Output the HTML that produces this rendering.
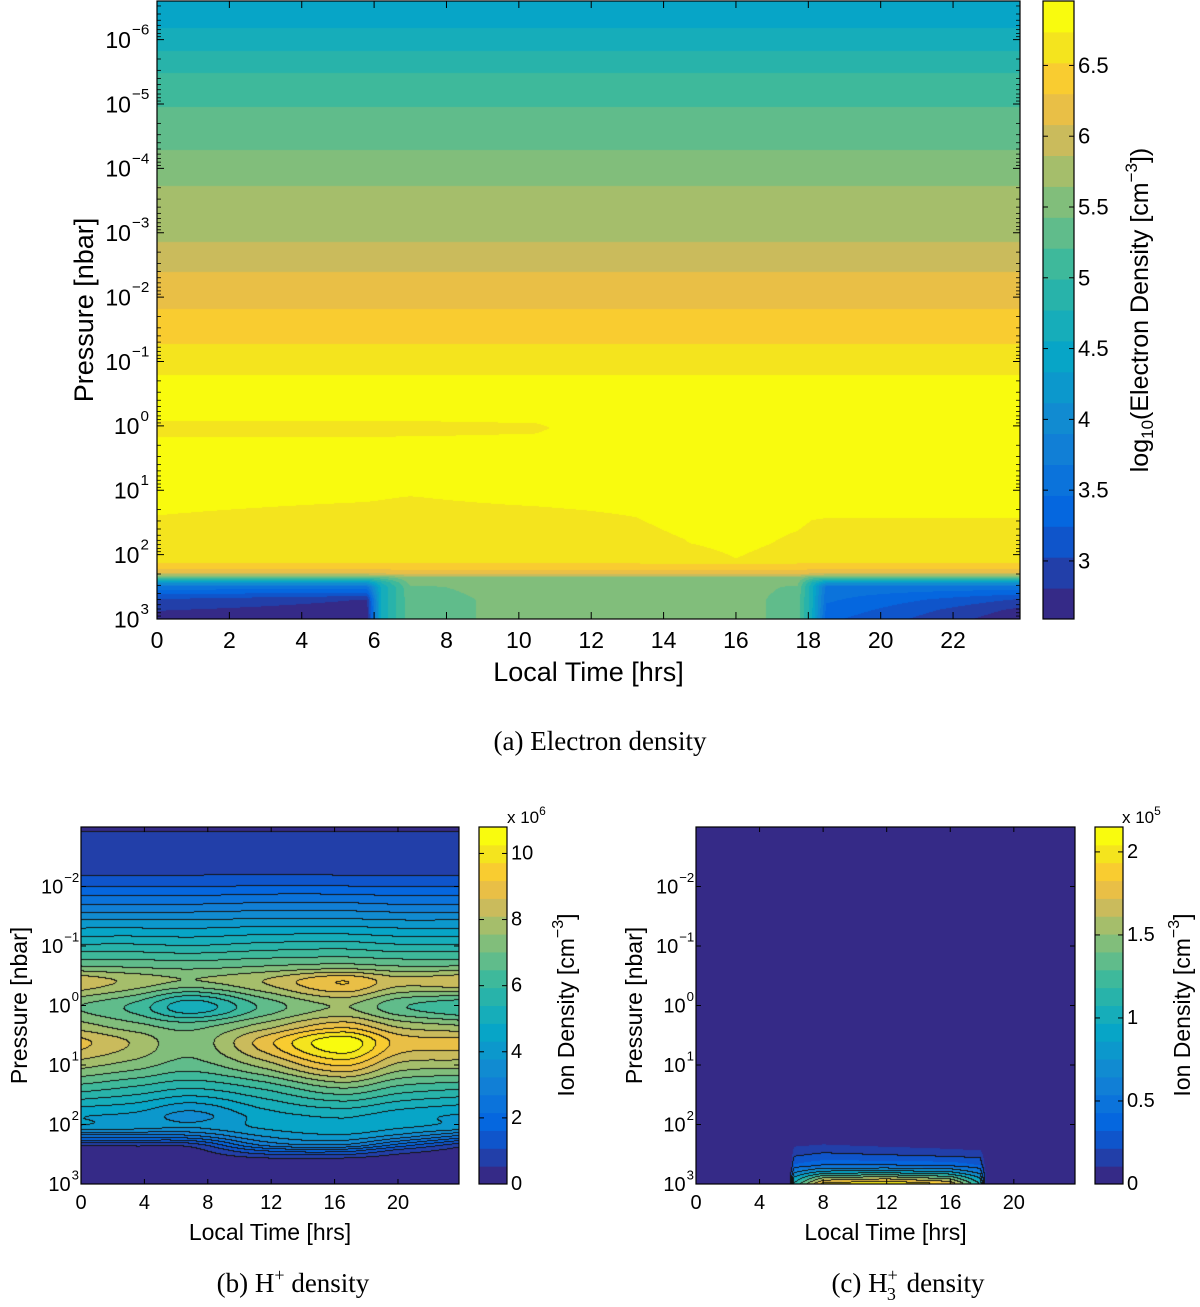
<!DOCTYPE html>
<html><head><meta charset="utf-8">
<style>
html,body{margin:0;padding:0;background:#fff;}
#root{position:relative;width:1200px;height:1307px;overflow:hidden;background:#fff;}
canvas{position:absolute;}
svg{position:absolute;left:0;top:0;}
text{font-family:"Liberation Sans",sans-serif;fill:#000;}
.cap{font-family:"Liberation Serif",serif;}
</style></head>
<body>
<div id="root">
<canvas id="cvA" width="863" height="618" style="left:157px;top:1px"></canvas>
<canvas id="cvB" width="378" height="357" style="left:81px;top:827px"></canvas>
<canvas id="cvC" width="379" height="357" style="left:696px;top:827px"></canvas>
<svg id="ov" width="1200" height="1307"></svg>
</div>
<script>
// ---------- DATA ----------
// Panel (a): electron density, log10 cm^-3
const A_PROF_L = [-6.6, -6.18, -5.82, -5.49, -4.95, -4.28, -3.75, -2.87, -2.39, -1.81, -1.27, -0.79];
const A_PROF_V = [4.40, 4.55, 4.77, 4.99, 5.21, 5.43, 5.64, 5.86, 6.08, 6.30, 6.52, 6.74];
const A_T = [0, 5.8, 6.2, 7, 10.5, 11.5, 14.6, 16, 17.7, 18.1, 18.5, 23.85];
const A_L = [-0.79, -0.4, -0.12, 0.03, 0.22, 0.69, 1.11, 1.42, 1.82, 2.05, 2.16, 2.29, 2.36, 2.43, 2.5, 2.7, 2.86, 3.0];
const A_V = [
 [6.74,6.74,6.74,6.74,6.74,6.74,6.74,6.74,6.74,6.74,6.74,6.74],
 [6.9,6.9,6.9,6.9,6.9,6.9,6.9,6.9,6.9,6.9,6.9,6.9],
 [6.77,6.77,6.77,6.77,6.78,6.85,6.9,6.9,6.9,6.9,6.9,6.9],
 [6.64,6.65,6.65,6.66,6.70,6.80,6.88,6.9,6.9,6.9,6.9,6.9],
 [6.77,6.77,6.77,6.77,6.78,6.85,6.9,6.9,6.9,6.9,6.9,6.9],
 [6.9,6.9,6.9,6.9,6.9,6.9,6.9,6.9,6.9,6.9,6.9,6.9],
 [6.80,6.76,6.75,6.73,6.80,6.82,6.85,6.88,6.85,6.82,6.80,6.80],
 [6.73,6.66,6.65,6.64,6.66,6.68,6.78,6.85,6.80,6.75,6.74,6.74],
 [6.62,6.61,6.61,6.61,6.62,6.64,6.73,6.82,6.68,6.63,6.62,6.63],
 [6.57,6.57,6.57,6.57,6.57,6.58,6.60,6.74,6.59,6.57,6.57,6.57],
 [6.50,6.50,6.50,6.50,6.50,6.50,6.50,6.50,6.50,6.50,6.50,6.50],
 [6.1,6.1,6.1,6.2,6.2,6.2,6.2,6.2,6.2,6.1,6.1,6.1],
 [5.2,5.2,5.3,5.6,5.6,5.6,5.6,5.6,5.6,5.3,5.2,5.2],
 [4.3,4.3,4.8,5.5,5.55,5.55,5.55,5.55,5.5,4.8,4.3,4.3],
 [3.6,3.6,4.6,5.4,5.5,5.55,5.55,5.5,5.4,4.6,3.6,3.6],
 [3.0,2.8,4.6,5.35,5.5,5.55,5.55,5.5,5.35,4.6,3.5,3.0],
 [2.82,2.7,4.6,5.35,5.5,5.55,5.55,5.5,5.35,4.6,3.4,2.75],
 [2.7,2.65,4.6,5.35,5.5,5.55,5.55,5.5,5.35,4.6,3.3,2.65]
];
// Panel (b): H+ density, units 1e6 cm^-3
const B_T = [0, 3.5, 7, 11.5, 16.5, 20, 23.85];
const B_L = [-3, -2.9, -2.2, -1.8, -1.4, -1.0, -0.66, -0.39, 0.02, 0.35, 0.63, 1.0, 1.4, 1.84, 2.05, 2.2, 2.35, 2.45, 2.6, 3];
const B_V = [
 [0.3,0.3,0.3,0.3,0.3,0.3,0.3],
 [0.56,0.56,0.56,0.56,0.56,0.56,0.56],
 [1.05,1.05,1.05,1.08,1.05,1.05,1.05],
 [2.3,2.3,2.3,2.4,2.4,2.3,2.3],
 [3.9,3.9,3.9,4.0,4.0,3.9,3.9],
 [5.5,5.5,5.4,5.6,5.7,5.5,5.5],
 [7.0,6.9,6.8,7.0,7.2,7.0,7.0],
 [8.5,7.9,7.5,8.1,9.2,8.3,8.5],
 [7.0,6.3,5.0,6.6,7.6,6.6,6.0],
 [7.8,7.2,6.8,7.8,9.0,8.0,7.6],
 [8.8,8.0,7.2,8.9,10.7,9.0,8.8],
 [7.8,7.3,6.8,7.8,9.3,8.0,7.8],
 [6.2,5.8,5.4,6.0,7.0,6.3,6.0],
 [4.4,4.2,3.6,4.6,5.0,4.6,4.3],
 [4.2,4.0,3.8,4.4,4.7,4.4,4.1],
 [2.5,2.5,2.6,3.8,4.2,3.6,2.6],
 [0.7,0.7,0.8,2.8,3.2,2.0,0.8],
 [0.2,0.2,0.3,1.6,1.8,0.9,0.3],
 [0.1,0.1,0.1,0.4,0.4,0.2,0.1],
 [0.05,0.05,0.05,0.05,0.05,0.05,0.05]
];
// Panel (c): H3+ density, units 1e5 cm^-3
const C_T = [0, 5.9, 6.2, 8, 12, 16, 17.9, 18.3, 23.85];
const C_L = [-3, 2.2, 2.3, 2.4, 2.55, 2.7, 2.8, 2.9, 3];
const C_V = [
 [0,0,0,0,0,0,0,0,0],
 [0,0,0,0,0,0,0,0,0],
 [0,0,0.05,0.08,0.04,0.02,0.02,0,0],
 [0,0,0.13,0.16,0.13,0.1,0.08,0,0],
 [0,0,0.22,0.26,0.24,0.22,0.2,0,0],
 [0,0,0.35,0.45,0.45,0.42,0.33,0,0],
 [0,0,0.6,0.9,0.95,0.85,0.55,0,0],
 [0,0,0.9,1.5,1.6,1.4,0.85,0,0],
 [0,0,1.1,2.0,2.15,1.9,1.05,0,0]
];
// Ticks
const A_XTICKS = [0,2,4,6,8,10,12,14,16,18,20,22];
const A_YTICKS = [-6,-5,-4,-3,-2,-1,0,1,2,3];
const A_CTICKS = [3,3.5,4,4.5,5,5.5,6,6.5];
const BC_XTICKS = [0,4,8,12,16,20];
const BC_YTICKS = [-2,-1,0,1,2,3];
const B_CTICKS = [0,2,4,6,8,10];
const C_CTICKS = [0,0.5,1,1.5,2];

// ---------- helpers ----------
const STOPS = [[0,'#352a87'],[0.14,'#0363e1'],[0.29,'#1485d4'],[0.43,'#06a7c6'],[0.57,'#38b99e'],[0.71,'#92bf73'],[0.80,'#d1bb59'],[0.875,'#fcc337'],[0.93,'#f3dd23'],[1,'#f9fb0e']];
function hex(h){return [parseInt(h.substr(1,2),16),parseInt(h.substr(3,2),16),parseInt(h.substr(5,2),16)];}
function parula(t){
  t=Math.max(0,Math.min(1,t));
  for(let i=0;i<STOPS.length-1;i++){
    if(t<=STOPS[i+1][0]){const a=hex(STOPS[i][1]),b=hex(STOPS[i+1][1]);const f=(t-STOPS[i][0])/(STOPS[i+1][0]-STOPS[i][0]);
      return [0,1,2].map(k=>Math.round(a[k]+(b[k]-a[k])*f));}
  }
  return hex('#f9fb0e');
}
function seg(xs,x){let i=0;while(i<xs.length-2&&x>xs[i+1])i++;return i;}
function lin(xs,ys,x){if(x<=xs[0])return ys[0];if(x>=xs[xs.length-1])return ys[ys.length-1];const i=seg(xs,x);const f=(x-xs[i])/(xs[i+1]-xs[i]);return ys[i]+(ys[i+1]-ys[i])*f;}
function cr(xs,ys,x){
  const n=xs.length;if(x<=xs[0])return ys[0];if(x>=xs[n-1])return ys[n-1];
  const i=seg(xs,x);const h=xs[i+1]-xs[i];const s=(x-xs[i])/h;
  const m0=i>0?(ys[i+1]-ys[i-1])/(xs[i+1]-xs[i-1]):(ys[i+1]-ys[i])/h;
  const m1=i+2<n?(ys[i+2]-ys[i])/(xs[i+2]-xs[i]):(ys[i+1]-ys[i])/h;
  const s2=s*s,s3=s2*s;
  return (2*s3-3*s2+1)*ys[i]+(s3-2*s2+s)*h*m0+(-2*s3+3*s2)*ys[i+1]+(s3-s2)*h*m1;
}
function crosses(a,b,stride){
  const lo=Math.min(a,b),hi=Math.max(a,b);
  for(let j=lo+1;j<=hi;j++)if(j%stride===0)return true;
  return false;
}
function drawField(id,T,Ls,V,tmax,Lmin,Lmax,vmin,vmax,nlev,smooth,stride,prof){
  const cv=document.getElementById(id);const w=cv.width,h=cv.height;const ctx=cv.getContext('2d');
  const img=ctx.createImageData(w,h);const step=(vmax-vmin)/nlev;const K=new Int16Array(w*h);
  const cols=[];for(let k=0;k<nlev;k++)cols.push(parula(k/(nlev-1)));
  for(let px=0;px<w;px++){
    const t=(px+0.5)/w*tmax;
    const col=V.map(r=>smooth?cr(T,r,t):lin(T,r,t));
    for(let py=0;py<h;py++){
      const L=Lmin+(py+0.5)/h*(Lmax-Lmin);
      let v;
      if(prof&&L<Ls[0])v=lin(prof[0],prof[1],L);else v=smooth?cr(Ls,col,L):lin(Ls,col,L);
      let k=Math.floor((v-vmin)/step);k=Math.max(0,Math.min(nlev-1,k));K[py*w+px]=k;
    }
  }
  for(let i=0;i<w*h;i++){const c=cols[K[i]];img.data[i*4]=c[0];img.data[i*4+1]=c[1];img.data[i*4+2]=c[2];img.data[i*4+3]=255;}
  if(stride>0){
    for(let py=0;py<h;py++)for(let px=0;px<w;px++){
      const i=py*w+px;const k=K[i];
      if((px<w-1&&K[i+1]!==k&&crosses(k,K[i+1],stride))||(py<h-1&&K[i+w]!==k&&crosses(k,K[i+w],stride))){img.data[i*4]=20;img.data[i*4+1]=20;img.data[i*4+2]=20;}
    }
  }
  ctx.putImageData(img,0,0);
}
const NS='http://www.w3.org/2000/svg';const ov=document.getElementById('ov');
function mk(tag,attrs,parent){const e=document.createElementNS(NS,tag);for(const k in attrs)e.setAttribute(k,attrs[k]);(parent||ov).appendChild(e);return e;}
function txt(s,x,y,size,anchor,name,extra){
  const e=mk('text',Object.assign({x:x,y:y,'font-size':size,'text-anchor':anchor||'middle'},extra||{}));e.textContent=s;
  
  
  return e;
}
function powLabel(exp,xr,y,base,sup,name){
  const g=mk('g',{});
  
  
  const expStr=(exp<0?'\u2212':'')+Math.abs(exp);
  const supW=sup*0.56*expStr.length;
  const t1=mk('text',{x:xr-supW-1,y:y+base*0.36,'font-size':base,'text-anchor':'end'},g);t1.textContent='10';
  const t2=mk('text',{x:xr-supW,y:y-base*0.22,'font-size':sup,'text-anchor':'start'},g);t2.textContent=expStr;
}
function axes(p){
  const g=mk('g',{});
  
  
  const xs=t=>p.x0+t/p.tmax*(p.x1-p.x0);
  const ys=L=>p.y0+(L-p.Lmin)/(p.Lmax-p.Lmin)*(p.y1-p.y0);
  p.xt.forEach(t=>{
    const x=xs(t);
    const a=mk('line',{x1:x,y1:p.y1,x2:x,y2:p.y1-p.tl,stroke:'#000','stroke-width':1},g);
    
    
    const b=mk('line',{x1:x,y1:p.y0,x2:x,y2:p.y0+p.tl,stroke:'#000','stroke-width':1},g);
    
    
    txt(String(t),x,p.xly,p.fs,'middle','x-tick-label');
  });
  p.yt.forEach(L=>{
    const y=ys(L);
    const a=mk('line',{x1:p.x0,y1:y,x2:p.x0+p.tl,y2:y,stroke:'#000','stroke-width':1},g);
    
    
    const b=mk('line',{x1:p.x1,y1:y,x2:p.x1-p.tl,y2:y,stroke:'#000','stroke-width':1},g);
    
    
    powLabel(L,p.ylx,y,p.fs,p.fs*0.66,'y-tick-label');
  });
  if(p.minor){
    for(let d=Math.floor(p.Lmin)-1;d<=Math.ceil(p.Lmax);d++)for(let m=2;m<=9;m++){
      const L=d+Math.log10(m);if(L<=p.Lmin||L>=p.Lmax)continue;const y=ys(L);
      const a=mk('line',{x1:p.x0,y1:y,x2:p.x0+4,y2:y,stroke:'#000','stroke-width':0.8},g);
      
      
      const b=mk('line',{x1:p.x1,y1:y,x2:p.x1-4,y2:y,stroke:'#000','stroke-width':0.8},g);
      
      
    }
  }
  const fr=mk('rect',{x:p.x0,y:p.y0,width:p.x1-p.x0,height:p.y1-p.y0,fill:'none',stroke:'#000','stroke-width':1.2},g);
  
  
  txt('Local Time [hrs]',(p.x0+p.x1)/2,p.xtly,p.tfs,'middle','x-axis-title',{'dominant-baseline':'central'});
  txt('Pressure [nbar]',p.ytlx,(p.y0+p.y1)/2,p.tfs,'middle','y-axis-title',{'dominant-baseline':'central',transform:'rotate(-90 '+p.ytlx+' '+((p.y0+p.y1)/2)+')'});
}
function colorbar(c){
  const g=mk('g',{});
  
  
  const step=(c.vmax-c.vmin)/c.n;
  const ys=v=>c.y1-(v-c.vmin)/(c.vmax-c.vmin)*(c.y1-c.y0);
  for(let k=0;k<c.n;k++){
    const a=ys(c.vmin+k*step),b=ys(Math.min(c.vmax,c.vmin+(k+1)*step));
    const col=parula(k/(c.n-1));
    const r=mk('rect',{x:c.x0,y:b,width:c.x1-c.x0,height:a-b+0.5,fill:'rgb('+col.join(',')+')'},g);
    
    
  }
  c.ticks.forEach(v=>{
    const y=ys(v);
    const a=mk('line',{x1:c.x1,y1:y,x2:c.x1-5,y2:y,stroke:'#000','stroke-width':1},g);
    
    
    const b=mk('line',{x1:c.x0,y1:y,x2:c.x0+5,y2:y,stroke:'#000','stroke-width':1},g);
    
    
    txt(String(v),c.x1+4,y,c.fs,'start','colorbar-tick-label',{'dominant-baseline':'central'});
  });
  const fr=mk('rect',{x:c.x0,y:c.y0,width:c.x1-c.x0,height:c.y1-c.y0,fill:'none',stroke:'#000','stroke-width':1.2},g);
  
  
}

// ---------- render ----------
drawField('cvA',A_T,A_L,A_V,23.85,-6.6,3,2.59,6.955,20,false,0,[A_PROF_L,A_PROF_V]);
drawField('cvB',B_T,B_L,B_V,23.85,-3,3,0,10.8,20,true,1,null);
drawField('cvC',C_T,C_L,C_V,23.85,-3,3,0,2.15,20,false,2,null);

axes({name:'panel-a',x0:157,x1:1020,y0:1,y1:619,tmax:23.85,Lmin:-6.6,Lmax:3,xt:A_XTICKS,yt:A_YTICKS,tl:7,fs:23,xly:648,ylx:149,xtly:672,ytlx:84,tfs:27,minor:true});
axes({name:'panel-b',x0:81,x1:459,y0:827,y1:1184,tmax:23.85,Lmin:-3,Lmax:3,xt:BC_XTICKS,yt:BC_YTICKS,tl:5,fs:20,xly:1209,ylx:79,xtly:1232,ytlx:19,tfs:23,minor:false});
axes({name:'panel-c',x0:696,x1:1075,y0:827,y1:1184,tmax:23.85,Lmin:-3,Lmax:3,xt:BC_XTICKS,yt:BC_YTICKS,tl:5,fs:20,xly:1209,ylx:694,xtly:1232,ytlx:634,tfs:23,minor:false});

colorbar({name:'colorbar-a',x0:1043,x1:1074,y0:1,y1:619,vmin:2.59,vmax:6.955,n:20,ticks:A_CTICKS,fs:22});
colorbar({name:'colorbar-b',x0:479,x1:507,y0:827,y1:1184,vmin:0,vmax:10.8,n:20,ticks:B_CTICKS,fs:20});
colorbar({name:'colorbar-c',x0:1095,x1:1123,y0:827,y1:1184,vmin:0,vmax:2.15,n:20,ticks:C_CTICKS,fs:20});

// colorbar titles
(function(){
  const t=mk('text',{x:1140,y:310,'font-size':25,'text-anchor':'middle','dominant-baseline':'central',transform:'rotate(-90 1140 310)'});
  
  
  t.innerHTML='log<tspan font-size="17" dy="7">10</tspan><tspan dy="-7">(Electron Density [cm</tspan><tspan font-size="17" dy="-9">\u22123</tspan><tspan dy="9">])</tspan>';
  [[566,'colorbar-b-title'],[1182,'colorbar-c-title']].forEach(([x,n])=>{
    const e=mk('text',{x:x,y:1005,'font-size':23,'text-anchor':'middle','dominant-baseline':'central',transform:'rotate(-90 '+x+' 1005)'});
    
    
    e.innerHTML='Ion Density [cm<tspan font-size="16" dy="-8">\u22123</tspan><tspan dy="8">]</tspan>';
  });
  [[507,'6','colorbar-b-multiplier'],[1122,'5','colorbar-c-multiplier']].forEach(([x,ex,n])=>{
    const e=mk('text',{x:x,y:823,'font-size':17,'text-anchor':'start'});
    
    
    e.innerHTML='x 10<tspan font-size="12" dy="-8">'+ex+'</tspan>';
  });
  const caps=[[600,750,'(a) Electron density','caption-a'],[293,1292,null,'caption-b'],[908,1292,null,'caption-c']];
  caps.forEach(([x,y,s,n])=>{
    const e=mk('text',{x:x,y:y,'font-size':27,'text-anchor':'middle','class':'cap'});
    
    
    if(s)e.textContent=s;
    else if(n==='caption-b')e.innerHTML='(b) H<tspan font-size="18" dy="-11">+</tspan><tspan dy="11"> density</tspan>';
    else e.innerHTML='(c) H<tspan font-size="18" dy="-11">+</tspan><tspan font-size="18" dx="-11" dy="19">3</tspan><tspan dy="-8" dx="4"> density</tspan>';
  });
})();
</script>
</body></html>
